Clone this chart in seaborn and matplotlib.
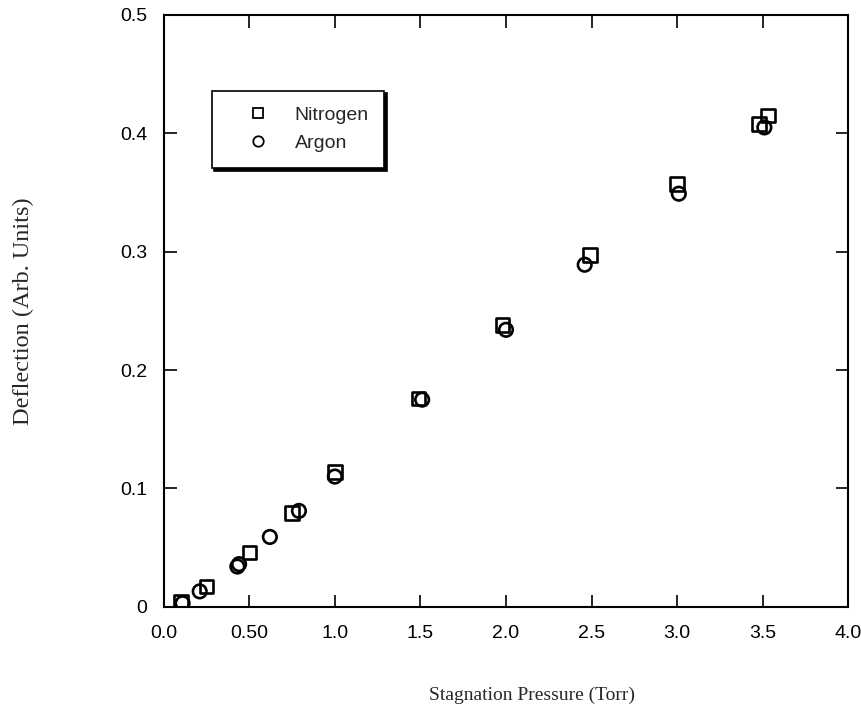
import matplotlib
matplotlib.use("Agg")
import matplotlib.pyplot as plt
import seaborn as sns
import pandas as pd
from matplotlib.lines import Line2D

# Measured deflection vs. stagnation pressure
nitrogen_p = [0.10, 0.25, 0.50, 0.75, 1.00, 1.49, 1.98, 2.49, 3.00, 3.48, 3.53]
nitrogen_d = [0.004, 0.017, 0.046, 0.079, 0.114, 0.176, 0.238, 0.297, 0.357, 0.408, 0.415]

argon_p = [0.11, 0.21, 0.43, 0.44, 0.62, 0.79, 1.00, 1.51, 2.00, 2.46, 3.01, 3.51]
argon_d = [0.003, 0.013, 0.034, 0.036, 0.059, 0.081, 0.110, 0.175, 0.234, 0.289, 0.349, 0.405]

x_ticks = [0.0, 0.5, 1.0, 1.5, 2.0, 2.5, 3.0, 3.5, 4.0]
x_tick_labels = ["0.0", "0.50", "1.0", "1.5", "2.0", "2.5", "3.0", "3.5", "4.0"]
y_ticks = [0.0, 0.1, 0.2, 0.3, 0.4, 0.5]
y_tick_labels = ["0", "0.1", "0.2", "0.3", "0.4", "0.5"]

df = pd.concat([
    pd.DataFrame({"p": nitrogen_p, "d": nitrogen_d, "gas": "Nitrogen"}),
    pd.DataFrame({"p": argon_p, "d": argon_d, "gas": "Argon"}),
])

sns.set_style("ticks")
plt.rcParams["font.family"] = ["Liberation Sans Narrow", "Liberation Sans", "DejaVu Sans"]

fig = plt.figure(figsize=(8.62, 7.13), dpi=100)
ax = fig.add_axes([0.190, 0.149, 0.794, 0.830])

markers = {"Nitrogen": "s", "Argon": "o"}
for gas in ["Nitrogen", "Argon"]:
    sub = df[df["gas"] == gas]
    sns.scatterplot(data=sub, x="p", y="d", marker=markers[gas], s=95,
                    facecolor="none", edgecolor="black", linewidth=1.9,
                    ax=ax, legend=False, zorder=3)

ax.set_xlim(0, 4.0)
ax.set_ylim(0, 0.5)
ax.set_xticks(x_ticks)
ax.set_xticklabels(x_tick_labels)
ax.set_yticks(y_ticks)
ax.set_yticklabels(y_tick_labels)
ax.tick_params(direction="in", top=True, right=True, length=9, width=1.2,
               labelsize=14, pad=13, colors="black")
ax.tick_params(axis="y", pad=12)
for sp in ax.spines.values():
    sp.set_visible(True)
    sp.set_linewidth(1.5)
    sp.set_color("black")

ax.set_xlabel("Stagnation Pressure (Torr)", family=["Liberation Serif", "DejaVu Serif"],
              fontsize=14)
ax.xaxis.set_label_coords(0.538, -0.135)
ax.set_ylabel("Deflection (Arb. Units)", family=["Liberation Serif", "DejaVu Serif"],
              fontsize=17.5, labelpad=62)

handles = [
    Line2D([], [], marker="s", linestyle="none", markerfacecolor="none",
           markeredgecolor="black", markeredgewidth=1.3, markersize=7.5, label="Nitrogen"),
    Line2D([], [], marker="o", linestyle="none", markerfacecolor="none",
           markeredgecolor="black", markeredgewidth=1.3, markersize=7.5, label="Argon"),
]
leg = ax.legend(handles=handles, loc="upper left", bbox_to_anchor=(0.07, 0.872),
                frameon=True, fancybox=False, shadow={"color": "black", "alpha": 1.0},
                edgecolor="black", fontsize=14, handletextpad=0.34, borderpad=0.8,
                labelspacing=0.55, borderaxespad=0, handlelength=3.13)
leg.get_frame().set_linewidth(1.2)

fig.savefig("out.png", dpi=100, facecolor="white")
